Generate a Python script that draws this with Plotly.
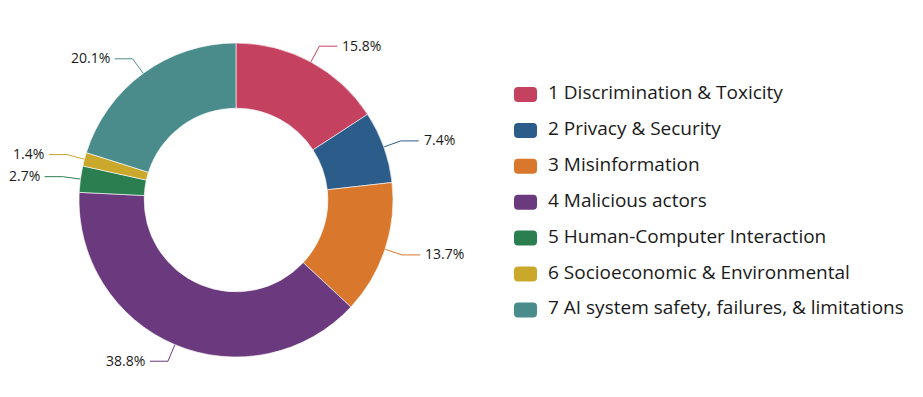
import math
import plotly.graph_objects as go

categories = ["1 Discrimination & Toxicity", "2 Privacy & Security", "3 Misinformation",
              "4 Malicious actors", "5 Human-Computer Interaction",
              "6 Socioeconomic & Environmental", "7 AI system safety, failures, & limitations"]
values = [15.8, 7.4, 13.7, 38.8, 2.7, 1.4, 20.1]
colors = ["#C4425F", "#2C5C8A", "#D9782D", "#6B3A7E", "#2B7E50", "#C9A82C", "#4A8C8C"]

W, H = 923, 397
cx, cy, R = 236, 200, 157
hole = 0.585

fig = go.Figure()
fig.add_trace(go.Pie(
    labels=categories, values=values, sort=False, direction="clockwise", rotation=0,
    hole=hole, textinfo="none", showlegend=False, hoverinfo="label+percent",
    marker=dict(colors=colors, line=dict(color="white", width=0.6)),
    domain=dict(x=[(cx - R) / W, (cx + R) / W], y=[1 - (cy + R) / H, 1 - (cy - R) / H]),
))

# leader lines + labels computed from the data
total = sum(values)
cum = 0
annotations = []
L1, L2 = 18, 18
for v, c in zip(values, colors):
    mid = (cum + v / 2) / total * 2 * math.pi
    cum += v
    sx, sy = math.sin(mid), -math.cos(mid)
    x0, y0 = cx + R * sx, cy + R * sy
    x1, y1 = cx + (R + L1) * sx, cy + (R + L1) * sy
    side = 1 if sx >= 0 else -1
    x2 = x1 + side * L2
    fig.add_trace(go.Scatter(x=[x0, x1, x2], y=[y0, y1, y1], mode="lines",
                             line=dict(color=c, width=1), hoverinfo="skip",
                             showlegend=False, xaxis="x", yaxis="y"))
    annotations.append(dict(x=x2 + side * 3, y=y1 - 1, xref="x", yref="y",
                            text=f"{v:.1f}%", showarrow=False,
                            xanchor="left" if side > 0 else "right", yanchor="middle",
                            font=dict(size=14, color="#1a1a1a")))

# custom legend
lx, ly0, dy = 514, 94.5, 35.9
shapes = []
for i, (name, c) in enumerate(zip(categories, colors)):
    yc = ly0 + i * dy
    x0, x1, y0, y1, r = lx, lx + 23, yc - 7.5, yc + 7.5, 4
    path = (f"M{x0+r},{y0} L{x1-r},{y0} Q{x1},{y0} {x1},{y0+r} L{x1},{y1-r} Q{x1},{y1} {x1-r},{y1} "
            f"L{x0+r},{y1} Q{x0},{y1} {x0},{y1-r} L{x0},{y0+r} Q{x0},{y0} {x0+r},{y0} Z")
    shapes.append(dict(type="path", path=path, xref="x", yref="y",
                       fillcolor=c, line=dict(width=0)))
    annotations.append(dict(x=lx + 32, y=yc - 2.5, xref="x", yref="y", text=name,
                            showarrow=False, xanchor="left", yanchor="middle",
                            font=dict(size=19, color="#1a1a1a")))

fig.update_layout(
    width=W, height=H, margin=dict(l=0, r=0, t=0, b=0),
    paper_bgcolor="white", plot_bgcolor="rgba(0,0,0,0)",
    font=dict(family="Open Sans, Noto Sans, sans-serif"),
    xaxis=dict(range=[0, W], visible=False, fixedrange=True, domain=[0, 1]),
    yaxis=dict(range=[H, 0], visible=False, fixedrange=True, domain=[0, 1]),
    annotations=annotations, shapes=shapes, showlegend=False,
)
fig.write_html("out.html")
